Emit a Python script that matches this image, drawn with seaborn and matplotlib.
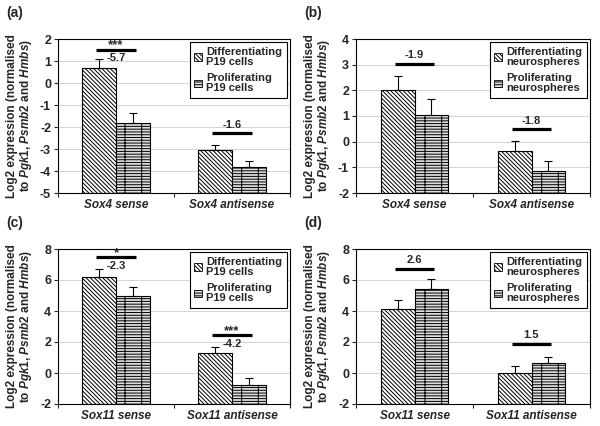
import matplotlib
matplotlib.use("Agg")
import matplotlib.pyplot as plt
import matplotlib.patches as mpatches
import pandas as pd
import seaborn as sns

sns.set_style("white")
plt.rcParams["font.family"] = ["Liberation Sans", "DejaVu Sans"]
plt.rcParams["font.weight"] = "bold"
plt.rcParams["mathtext.fontset"] = "custom"
plt.rcParams["mathtext.it"] = "Liberation Sans:italic:bold"
plt.rcParams["mathtext.rm"] = "Liberation Sans:bold"
plt.rcParams["hatch.linewidth"] = 0.7

# ---- data -------------------------------------------------------------
sox4_genes = ["Sox4 sense", "Sox4 antisense"]
sox11_genes = ["Sox11 sense", "Sox11 antisense"]

p19_groups = ["Differentiating\nP19 cells", "Proliferating\nP19 cells"]
ns_groups = ["Differentiating\nneurospheres", "Proliferating\nneurospheres"]

# (diff, prolif) per gene
a_mean = [[0.68, -1.83], [-3.05, -3.8]]
a_err = [[0.42, 0.45], [0.25, 0.25]]
b_mean = [[2.0, 1.05], [-0.36, -1.15]]
b_err = [[0.55, 0.6], [0.4, 0.4]]
c_mean = [[6.22, 4.98], [1.29, -0.78]]
c_err = [[0.5, 0.55], [0.4, 0.43]]
d_mean = [[4.12, 5.44], [0.0, 0.65]]
d_err = [[0.6, 0.6], [0.45, 0.4]]

# significance: (line y, fold text, stars)
a_sig = [(1.52, "-5.7", "***"), (-2.29, "-1.6", "")]
b_sig = [(3.03, "-1.9", ""), (0.48, "-1.8", "")]
c_sig = [(7.46, "-2.3", "*"), (2.42, "-4.2", "***")]
d_sig = [(6.73, "2.6", ""), (1.88, "1.5", "")]

HATCHES = ["\\\\\\\\\\\\\\\\", "------|"]
FACES = ["white", "#dedede"]


def make_df(genes, groups, mean, err):
    rows = []
    for gi, gene in enumerate(genes):
        for hi, grp in enumerate(groups):
            rows.append({"gene": gene, "group": grp,
                         "value": mean[gi][hi], "err": err[gi][hi]})
    return pd.DataFrame(rows)


def draw_panel(ax, genes, groups, mean, err, sig, ylim, step, label):
    df = make_df(genes, groups, mean, err)
    sns.barplot(data=df, x="gene", y="value", hue="group", order=genes,
                hue_order=groups, width=0.58, errorbar=None,
                palette=FACES, edgecolor="black", linewidth=0.8,
                legend=False, ax=ax)
    ymin, ymax = ylim
    bars = ax.patches[:len(genes) * len(groups)]
    # seaborn orders patches by hue then category
    for hi, grp in enumerate(groups):
        for gi, gene in enumerate(genes):
            p = bars[hi * len(genes) + gi]
            v = mean[gi][hi]
            p.set_y(ymin)
            p.set_height(v - ymin)
            p.set_hatch(HATCHES[hi])
            p.set_facecolor(FACES[hi])
            cx = p.get_x() + p.get_width() / 2
            ax.errorbar(cx, v, yerr=[[0], [err[gi][hi]]], fmt="none",
                        ecolor="black", elinewidth=0.8, capsize=3,
                        capthick=0.8)
    for gi, (ly, fold, stars) in enumerate(sig):
        ax.plot([gi - 0.17, gi + 0.17], [ly, ly], color="black", lw=2.3,
                solid_capstyle="butt")
        if stars:
            ax.annotate(stars, (gi, ly), xytext=(0, -1.5),
                        textcoords="offset points", ha="center",
                        va="bottom", fontsize=9.5, fontweight="bold")
            ax.annotate(fold, (gi, ly), xytext=(0, -2.5),
                        textcoords="offset points", ha="center",
                        va="top", fontsize=8, fontweight="bold")
        else:
            ax.annotate(fold, (gi, ly), xytext=(0, 2.5),
                        textcoords="offset points", ha="center",
                        va="bottom", fontsize=8, fontweight="bold")
    ax.set_xlim(-0.5, 1.5)
    ax.set_ylim(ymin, ymax)
    ticks = list(range(ymin, ymax + 1, step))
    ax.set_yticks(ticks)
    ax.set_yticklabels([str(t) for t in ticks], fontsize=9,
                       fontweight="bold")
    ax.yaxis.grid(True, color="#cccccc", linewidth=0.6)
    ax.set_axisbelow(True)
    ax.set_xticks([0, 1])
    ax.set_xticklabels(genes, fontsize=8.5, fontweight="bold",
                       fontstyle="italic")
    ax.set_xticks([-0.5, 0.5, 1.5], minor=True)
    ax.tick_params(axis="y", direction="out", length=3, width=0.8, pad=2,
                   left=True)
    ax.tick_params(axis="x", which="major", length=0, pad=4)
    ax.tick_params(axis="x", which="minor", direction="out", length=3,
                   width=0.8, bottom=True)
    ax.set_xlabel("")
    ax.set_ylabel("Log2 expression (normalised\n"
                  r"to $\mathit{Pgk1}$, $\mathit{Psmb2}$ and $\mathit{Hmbs}$)",
                  fontsize=8.5, fontweight="bold", labelpad=4,
                  linespacing=1.0)
    for s in ax.spines.values():
        s.set_visible(True)
        s.set_color("black")
        s.set_linewidth(0.8)
    handles = [mpatches.Patch(facecolor=FACES[i], edgecolor="black",
                              hatch=HATCHES[i], linewidth=0.6,
                              label=groups[i]) for i in range(2)]
    leg = ax.legend(handles=handles, loc="upper right", fontsize=8,
                    frameon=True, fancybox=False, framealpha=1,
                    handlelength=0.7, handleheight=0.7, handletextpad=0.4,
                    labelspacing=0.6, borderpad=0.4, borderaxespad=0.3)
    leg.get_frame().set_edgecolor("black")
    leg.get_frame().set_linewidth(0.8)
    for t in leg.get_texts():
        t.set_fontweight("bold")
        t.set_linespacing(1.0)
    ax.figure.text(ax.get_position().x0 - 0.087, ax.get_position().y1 + 0.045,
                   label, fontsize=10, fontweight="bold", va="bottom")


fig = plt.figure(figsize=(6, 4.26), dpi=100)
ax_a = fig.add_axes([58 / 600, 1 - 193 / 426, 232 / 600, 154 / 426])
ax_b = fig.add_axes([356 / 600, 1 - 193 / 426, 234 / 600, 154 / 426])
ax_c = fig.add_axes([58 / 600, 1 - 404 / 426, 232 / 600, 155 / 426])
ax_d = fig.add_axes([356 / 600, 1 - 404 / 426, 234 / 600, 155 / 426])

draw_panel(ax_a, sox4_genes, p19_groups, a_mean, a_err, a_sig, (-5, 2), 1, "(a)")
draw_panel(ax_b, sox4_genes, ns_groups, b_mean, b_err, b_sig, (-2, 4), 1, "(b)")
draw_panel(ax_c, sox11_genes, p19_groups, c_mean, c_err, c_sig, (-2, 8), 2, "(c)")
draw_panel(ax_d, sox11_genes, ns_groups, d_mean, d_err, d_sig, (-2, 8), 2, "(d)")

fig.savefig("out.png", dpi=100)
